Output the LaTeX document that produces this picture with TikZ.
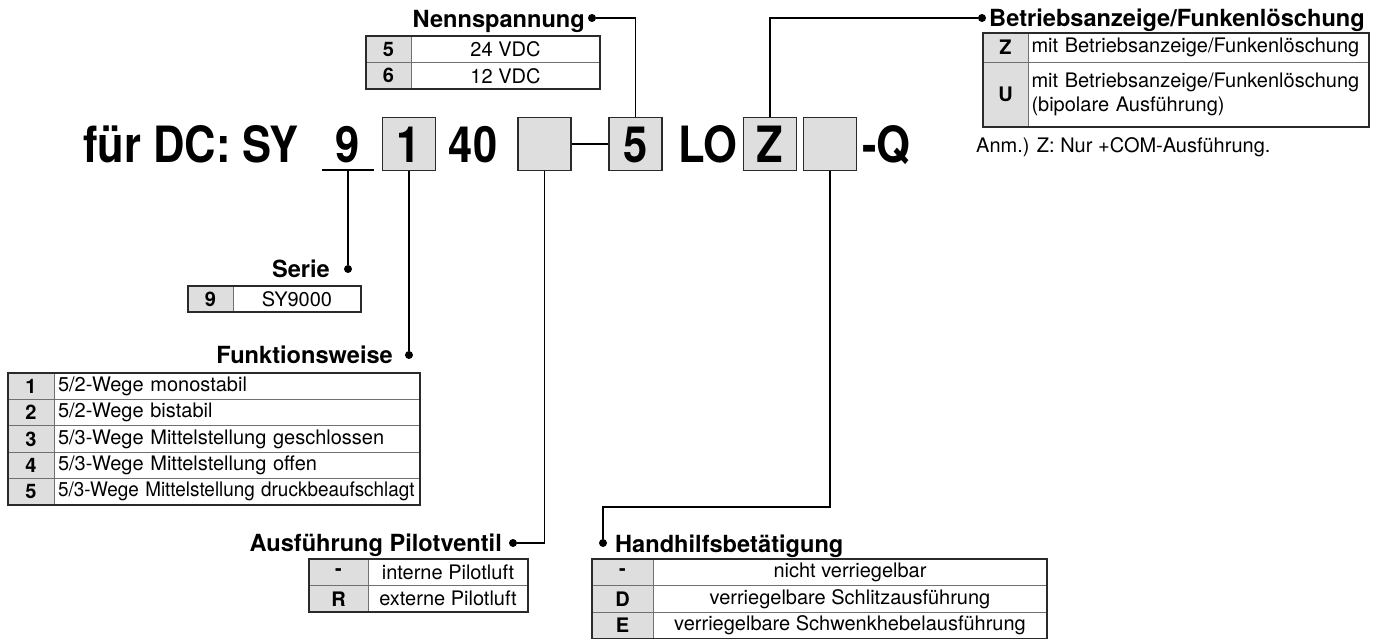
\documentclass[tikz,border=0pt]{standalone}
\usepackage{fontspec}
\usepackage{graphicx}
\setmainfont{TeX Gyre Heros}
\newfontfamily\condfont[FakeStretch=0.87]{TeX Gyre Heros}
\usetikzlibrary{positioning, calc}
\definecolor{codegray}{HTML}{DEDEDE}
\definecolor{framegray}{HTML}{2A2A2A}
\definecolor{rulegray}{HTML}{707070}
\newcommand{\fTitle}{\condfont\fontsize{50}{52}\selectfont\bfseries}
\newcommand{\fHead}{\fontsize{23.6}{26}\selectfont\bfseries}
\newcommand{\fTab}{\fontsize{20}{24}\selectfont}
\newcommand{\fTabB}{\fontsize{20}{24}\selectfont\bfseries}
\tikzset{
  % Kennzeichen in der Typenbezeichnung
  codebox/.style={draw=framegray, line width=1.4pt, fill=codegray, minimum width=53pt,
    minimum height=53pt, inner sep=0pt, text height=36pt, text depth=0pt, font=\fTitle},
  titletxt/.style={inner sep=0pt, font=\fTitle},
  % Ueberschrift einer Tabelle
  head/.style={inner sep=0pt, font=\fHead},
  % Zellen einer Tabelle
  cellcode/.style={draw=rulegray, line width=0.8pt, fill=codegray, inner sep=0pt, outer sep=0pt,
    minimum height=26.5pt, font=\fTabB},
  celltext/.style={draw=rulegray, line width=0.8pt, fill=white, inner sep=0pt, outer sep=0pt,
    minimum height=26.5pt, font=\fTab},
  celltextl/.style={celltext, align=left, inner xsep=4pt},
  frame/.style={draw=framegray, line width=1.3pt},
  % Verbindungslinien
  wire/.style={line width=1.8pt, black},
  dot/.style={circle, fill=black, minimum size=8pt, inner sep=0pt},
  note/.style={inner sep=0pt, font=\fTab},
}

\begin{document}
\begin{tikzpicture}[x=1pt, y=-1pt]
  \useasboundingbox (0,0) rectangle (1383,640);
  % Typenbezeichnung
  \node[titletxt, anchor=base west] (ttl) at (83,162) {für DC: SY};
  \node[titletxt, anchor=base] (t9) at (348,162) {9};
  \coordinate (u9) at (348,170);
  \draw[line width=1.5pt] ([xshift=-26pt]u9) -- ([xshift=26pt]u9);
  \node[codebox] (b1) at (409,144) {1};
  \node[titletxt, anchor=base] (t40) at (473,162) {40};
  \node[codebox] (bA) at (544.5,144) {};
  \node[codebox] (b5) at (635.5,144) {5};
  \node[titletxt, anchor=base] (tLO) at (708,162) {LO};
  \node[codebox] (bZ) at (770,144) {Z};
  \node[codebox] (bB) at (830,144) {};
  \node[titletxt, anchor=base west] (tQ) at (862,162) {-Q};
  \draw[wire] (bA) -- (b5);

  % Nennspannung
  \node[head, anchor=base east] (hNenn) at (585,27) {Nennspannung};
  \node[dot] (dNenn) at (592,18) {};
  \node[cellcode, minimum width=45pt, anchor=north west] (n5) at (366,36) {5};
  \node[celltext, minimum width=189pt, right=0pt of n5] (n5t) {24 VDC};
  \node[cellcode, minimum width=45pt, below=0pt of n5] (n6) {6};
  \node[celltext, minimum width=189pt, right=0pt of n6] (n6t) {12 VDC};
  \draw[frame] (n5.north west) rectangle (n6t.south east);
  \draw[wire] (dNenn) -| (b5.north);

  % Betriebsanzeige
  \node[head, anchor=base west] (hBetr) at (989,26) {Betriebsanzeige/Funkenlöschung};
  \node[dot] (dBetr) at (982,18) {};
  \node[cellcode, minimum width=45pt, minimum height=29pt, anchor=north west] (zZ) at (983,33) {Z};
  \node[celltextl, text width=334pt, minimum height=29pt, inner xsep=3.5pt,
    right=0pt of zZ] (zZt) {mit Betriebsanzeige/Funkenlöschung};
  \node[cellcode, minimum width=45pt, minimum height=65pt, below=0pt of zZ] (zU) {U};
  \node[celltextl, text width=334pt, minimum height=65pt, inner xsep=3.5pt,
    right=0pt of zU] (zUt) {mit Betriebsanzeige/Funkenlöschung\\(bipolare Ausführung)};
  \draw[frame] (zZ.north west) rectangle (zUt.south east);
  \node[note, anchor=base west] (anm) at (976,152) {Anm.) Z: Nur +COM-Ausführung.};
  \draw[wire] (bZ.north) |- (dBetr);

  % Serie
  \node[head, anchor=base east] (hSerie) at (330,277) {Serie};
  \node[dot] (dSerie) at (348,269) {};
  \node[cellcode, minimum width=45pt, minimum height=26pt, anchor=north west] (s9) at (188,286) {9};
  \node[celltext, minimum width=128pt, minimum height=26pt, right=0pt of s9] (s9t) {SY9000};
  \draw[frame] (s9.north west) rectangle (s9t.south east);
  \draw[wire] (u9) -- (dSerie);

  % Funktionsweise
  \node[head, anchor=base east] (hFunk) at (393,363) {Funktionsweise};
  \node[dot] (dFunk) at (409,355) {};
  \node[cellcode, minimum width=46pt, minimum height=26.4pt, anchor=north west] (f1) at (8,373) {1};
  \node[celltextl, text width=358pt, minimum height=26.4pt, right=0pt of f1] (f1t) {5/2-Wege monostabil};
  \node[cellcode, minimum width=46pt, minimum height=26.4pt, below=0pt of f1] (f2) {2};
  \node[celltextl, text width=358pt, minimum height=26.4pt, right=0pt of f2] (f2t) {5/2-Wege bistabil};
  \node[cellcode, minimum width=46pt, minimum height=26.4pt, below=0pt of f2] (f3) {3};
  \node[celltextl, text width=358pt, minimum height=26.4pt, right=0pt of f3] (f3t) {5/3-Wege Mittelstellung geschlossen};
  \node[cellcode, minimum width=46pt, minimum height=26.4pt, below=0pt of f3] (f4) {4};
  \node[celltextl, text width=358pt, minimum height=26.4pt, right=0pt of f4] (f4t) {5/3-Wege Mittelstellung offen};
  \node[cellcode, minimum width=46pt, minimum height=26.4pt, below=0pt of f4] (f5) {5};
  \node[celltextl, text width=358pt, minimum height=26.4pt, right=0pt of f5] (f5t)
    {\scalebox{0.945}[1]{5/3-Wege Mittelstellung druckbeaufschlagt}};
  \draw[frame] (f1.north west) rectangle (f5t.south east);
  \draw[wire] (b1.south) -- (dFunk);

  % Ausfuehrung Pilotventil
  \node[head, anchor=base east] (hPilot) at (502,551) {Ausführung Pilotventil};
  \node[dot] (dPilot) at (513,543) {};
  \node[cellcode, minimum width=59pt, anchor=north west] (pM) at (309,559) {-};
  \node[celltext, minimum width=160pt, right=0pt of pM] (pMt) {interne Pilotluft};
  \node[cellcode, minimum width=59pt, below=0pt of pM] (pR) {R};
  \node[celltext, minimum width=160pt, right=0pt of pR] (pRt) {externe Pilotluft};
  \draw[frame] (pM.north west) rectangle (pRt.south east);
  \draw[wire] (bA.south) |- (dPilot);

  % Handhilfsbetaetigung
  \node[head, anchor=base west] (hHand) at (615,552) {Handhilfsbetätigung};
  \node[dot] (dHand) at (603,543) {};
  \node[cellcode, minimum width=61pt, anchor=north west] (hM) at (592,559) {-};
  \node[celltext, minimum width=394pt, right=0pt of hM] (hMt) {nicht verriegelbar};
  \node[cellcode, minimum width=61pt, below=0pt of hM] (hD) {D};
  \node[celltext, minimum width=394pt, right=0pt of hD] (hDt) {verriegelbare Schlitzausführung};
  \node[cellcode, minimum width=61pt, below=0pt of hD] (hE) {E};
  \node[celltext, minimum width=394pt, right=0pt of hE] (hEt) {verriegelbare Schwenkhebelausführung};
  \draw[frame] (hM.north west) rectangle (hEt.south east);
  \draw[wire] (bB.south) -- ++(0,336) -| (dHand);
\end{tikzpicture}
\end{document}
